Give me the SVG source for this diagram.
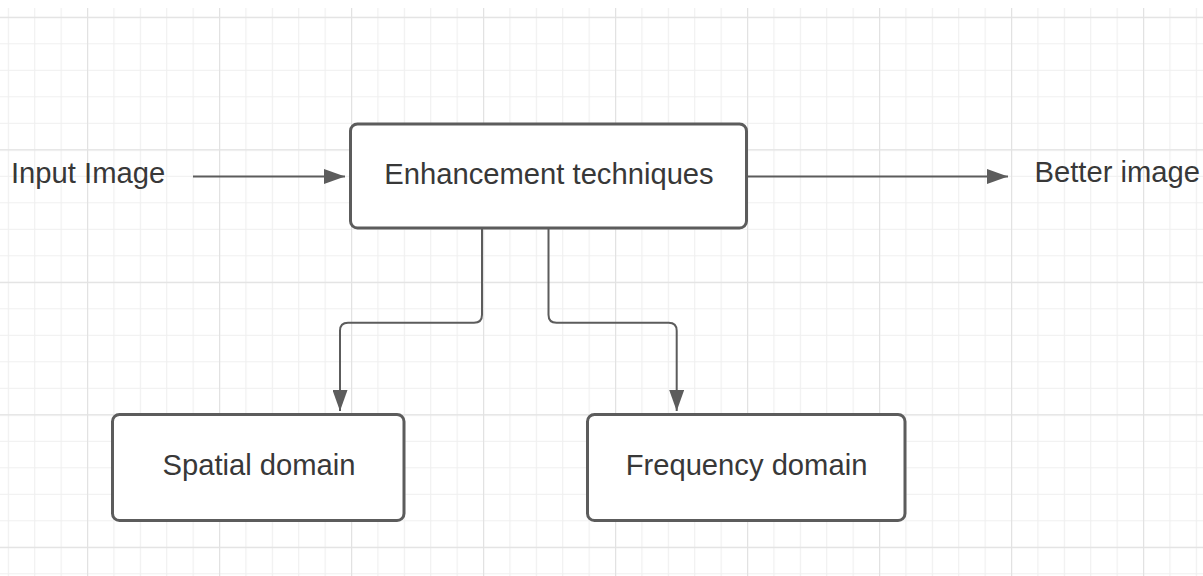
<svg xmlns="http://www.w3.org/2000/svg" width="1203" height="576" viewBox="0 0 1203 576">
  <style>
    .box { fill: #ffffff; stroke: #5c5c5c; stroke-width: 3; }
    .label { font-family: "Liberation Sans", Arial, sans-serif; font-size: 29.2px; fill: #383838; }
    .mid { text-anchor: middle; }
    .wire { fill: none; stroke: #5c5c5c; stroke-width: 2; }
  </style>
  <defs>
    <!-- minor grid cell -->
    <pattern id="gridMinor" patternUnits="userSpaceOnUse" x="7.8" y="16.8" width="26.4" height="26.5">
      <path d="M0.5 0 V26.5 M0 0.5 H26.4" fill="none" stroke="#efefef" stroke-width="1.2"/>
    </pattern>
    <!-- major grid cell, every five minor cells -->
    <pattern id="gridMajor" patternUnits="userSpaceOnUse" x="87" y="16.8" width="132" height="132.5">
      <path d="M0.5 0 V132.5 M0 0.5 H132" fill="none" stroke="#e2e2e2" stroke-width="1.4"/>
    </pattern>
    <marker id="arrow" viewBox="0 0 21 15" refX="21" refY="7.5" markerUnits="userSpaceOnUse" markerWidth="21" markerHeight="15" orient="auto">
      <path d="M0 0 L21 7.5 L0 15 Z" fill="#5c5c5c"/>
    </marker>
  </defs>

  <!-- background and grid -->
  <rect width="1203" height="576" fill="#ffffff"/>
  <rect x="0" y="8" width="1203" height="568" fill="url(#gridMinor)"/>
  <rect x="0" y="8" width="1203" height="568" fill="url(#gridMajor)"/>

  <!-- connectors -->
  <g id="connectors">
    <path class="wire" d="M193 176.5 H345" marker-end="url(#arrow)"/>
    <path class="wire" d="M748 176.5 H1008" marker-end="url(#arrow)"/>
    <path class="wire" d="M482 229 V314.7 Q482 322.7 474 322.7 H348 Q340 322.7 340 330.7 V411" marker-end="url(#arrow)"/>
    <path class="wire" d="M548.5 229 V314.7 Q548.5 322.7 556.5 322.7 H668.7 Q676.7 322.7 676.7 330.7 V411" marker-end="url(#arrow)"/>
  </g>

  <!-- free labels -->
  <g id="input-image">
    <text class="label" x="11" y="183">Input Image</text>
  </g>
  <g id="better-image">
    <text class="label" x="1034.5" y="182">Better image</text>
  </g>

  <!-- process boxes -->
  <g id="enhancement">
    <rect class="box" x="350.5" y="124" width="396" height="104" rx="7"/>
    <text class="label mid" x="549" y="184">Enhancement techniques</text>
  </g>
  <g id="spatial">
    <rect class="box" x="112.5" y="414.5" width="291.5" height="106" rx="7"/>
    <text class="label mid" x="259" y="475">Spatial domain</text>
  </g>
  <g id="frequency">
    <rect class="box" x="587.5" y="414.5" width="317.5" height="106" rx="7"/>
    <text class="label mid" x="746.5" y="475">Frequency domain</text>
  </g>
</svg>
